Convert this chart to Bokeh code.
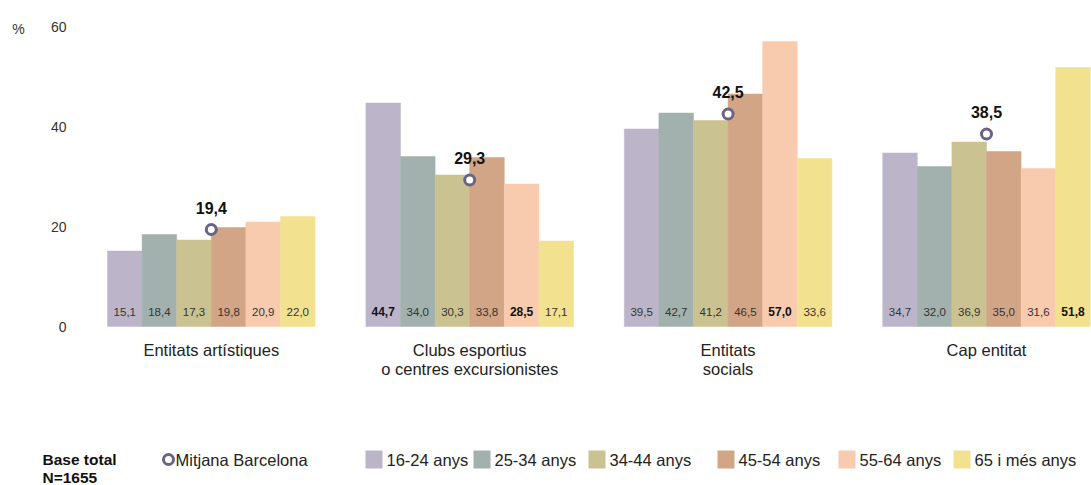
from bokeh.plotting import figure
from bokeh.models import Range1d
from bokeh.core.properties import value
from bokeh.embed import file_html
from bokeh.resources import INLINE

# ---------------- data ----------------
categories = ["Entitats artístiques", "Clubs esportius\no centres excursionistes",
              "Entitats\nsocials", "Cap entitat"]
age_groups = ["16-24 anys", "25-34 anys", "34-44 anys", "45-54 anys", "55-64 anys", "65 i més anys"]
v_16_24 = [15.1, 44.7, 39.5, 34.7]
v_25_34 = [18.4, 34.0, 42.7, 32.0]
v_34_44 = [17.3, 30.3, 41.2, 36.9]
v_45_54 = [19.8, 33.8, 46.5, 35.0]
v_55_64 = [20.9, 28.5, 57.0, 31.6]
v_65_mes = [22.0, 17.1, 33.6, 51.8]
mitjana_bcn = [19.4, 29.3, 42.5, 38.5]
# values shown in bold (per category, per age group)
destacats = [
    [False, False, False, False, False, False],
    [True, False, False, False, True, False],
    [False, False, False, False, True, False],
    [False, False, False, False, False, True],
]
y_ticks = [0, 20, 40, 60]
base_text = "Base total\nN=1655"
mean_label = "Mitjana Barcelona"

series = [v_16_24, v_25_34, v_34_44, v_45_54, v_55_64, v_65_mes]
colors = ["#bcb5ca", "#a2b0ae", "#cbc291", "#d1a585", "#f8cbae", "#f2e28f"]
mean_color = "#6a6384"

FONT = value("Liberation Sans")
NARROW = value("'Liberation Sans Narrow', 'Liberation Sans', sans-serif")

def fmt(v):
    return f"{v:.1f}".replace(".", ",")

# ---------------- layout ----------------
X0 = 107.0     # left edge of first bar (x units)
BW = 34.6      # bar width
STEP = 258.4   # distance between groups

p = figure(width=1091, height=485, x_range=Range1d(0, 1091), y_range=Range1d(-31.8, 65.2),
           x_axis_type=None, y_axis_type=None, output_backend="svg", toolbar_location=None,
           min_border_left=0, min_border_right=0, min_border_top=0, min_border_bottom=0)
p.grid.visible = False
p.outline_line_color = None
p.background_fill_color = "white"

n = len(categories)
centers = [X0 + i * STEP + 3 * BW for i in range(n)]

for j, (vals, col) in enumerate(zip(series, colors)):
    xs = [X0 + i * STEP + (j + 0.5) * BW for i in range(n)]
    p.vbar(x=xs, top=vals, bottom=0, width=BW, fill_color=col, line_color=col, line_width=0.5)
    normal = [(x, fmt(v)) for x, v, i in zip(xs, vals, range(n)) if not destacats[i][j]]
    bold = [(x, fmt(v)) for x, v, i in zip(xs, vals, range(n)) if destacats[i][j]]
    if normal:
        p.text(x=[a for a, _ in normal], y=[3.0] * len(normal), text=[b for _, b in normal],
               text_font=NARROW, text_font_size="11.5px", text_color="#333333",
               text_align="center", text_baseline="middle")
    if bold:
        p.text(x=[a for a, _ in bold], y=[3.0] * len(bold), text=[b for _, b in bold],
               text_font=NARROW, text_font_size="12px", text_font_style="bold",
               text_color="#111111", text_align="center", text_baseline="middle")

# mean markers
p.scatter(x=centers, y=mitjana_bcn, marker="circle", size=10, fill_color="white",
          line_color=mean_color, line_width=3)
p.text(x=centers, y=[m + 4.4 for m in mitjana_bcn], text=[fmt(m) for m in mitjana_bcn],
       text_font=FONT, text_font_size="16px", text_font_style="bold", text_color="#111111",
       text_align="center", text_baseline="middle")

# category labels
p.text(x=centers, y=[-2.8] * n, text=categories, text_font=FONT, text_font_size="16.5px",
       text_color="#222222", text_align="center", text_baseline="top", text_line_height=1.1)

# y tick labels
p.text(x=[66] * len(y_ticks), y=y_ticks, text=[str(t) for t in y_ticks], text_font=NARROW,
       text_font_size="14px", text_color="#333333", text_align="right", text_baseline="middle")
p.text(x=[18], y=[y_ticks[-1] - 0.4], text=["%"], text_font=FONT, text_font_size="14px",
       text_color="#333333", text_align="center", text_baseline="middle")

# legend (drawn)
LEG_Y = -26.6
p.text(x=[42], y=[LEG_Y + 1.7], text=[base_text], text_font=FONT, text_font_size="15.5px",
       text_font_style="bold", text_color="#111111", text_align="left", text_baseline="top",
       text_line_height=1.05)
p.scatter(x=[168], y=[LEG_Y], marker="circle", size=10, fill_color="white",
          line_color=mean_color, line_width=3)
p.text(x=[175], y=[LEG_Y], text=[mean_label], text_font=FONT, text_font_size="16.5px",
       text_color="#222222", text_align="left", text_baseline="middle")
leg_sq_left = [365, 473, 588, 717, 838, 953]
p.rect(x=[l + 8.5 for l in leg_sq_left], y=[LEG_Y] * 6, width=17, height=18, height_units="screen",
       fill_color=colors, line_color=None)
p.text(x=[l + 21 for l in leg_sq_left], y=[LEG_Y] * 6, text=age_groups, text_font=FONT,
       text_font_size="16.5px", text_color="#222222", text_align="left", text_baseline="middle")

open("out.html", "w").write(file_html(p, INLINE))
